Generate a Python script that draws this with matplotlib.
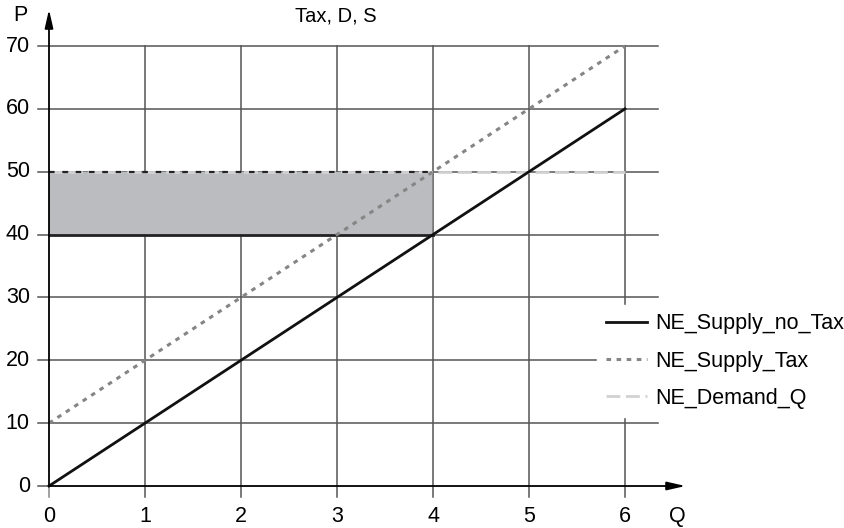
import matplotlib.pyplot as plt

plt.rcParams['font.family'] = ['Liberation Sans', 'DejaVu Sans']

# data
q = [0, 1, 2, 3, 4, 5, 6]
supply_no_tax = [0, 10, 20, 30, 40, 50, 60]
supply_tax = [10, 20, 30, 40, 50, 60, 70]
demand = [50, 50, 50, 50, 50, 50, 50]
x_ticks = [0, 1, 2, 3, 4, 5, 6]
y_ticks = [0, 10, 20, 30, 40, 50, 60, 70]
tax_q = 4
price_low = 40
price_high = 50

W, H = 844, 528
fig = plt.figure(figsize=(W / 100, H / 100), dpi=100)
ax = fig.add_axes([0, 0, 1, 1])
# pixel mapping: x=0 at 49px, 96px per unit; y=0 at 486px, 6.2857px per unit
xs, ys = 96.0, 440 / 70.0
ax.set_xlim(-49 / xs, (W - 49) / xs)
ax.set_ylim(-(H - 486) / ys, 486 / ys)
ax.axis('off')

grid_c = '#555555'
# grid
for y in y_ticks[1:]:
    ax.plot([-0.115, 6.34], [y, y], color=grid_c, lw=1.1, zorder=1)
for x in x_ticks[1:]:
    ax.plot([x, x], [-1.75, 70], color=grid_c, lw=1.1, zorder=1)
ax.plot([0, 0], [-1.75, 0], color='#888888', lw=1.1, zorder=1)
ax.plot([-0.115, 0], [0, 0], color=grid_c, lw=1.1, zorder=1)

# shaded tax area
ax.fill_between([0, tax_q], price_low, price_high, color='#bbbcbf', lw=0, zorder=2)
ax.plot([0, tax_q], [price_low, price_low], color='#222222', lw=2, zorder=4)
ax.plot([tax_q, tax_q], [price_low, price_high], color='#777777', lw=1.1, zorder=3)

# series
l1, = ax.plot(q, supply_no_tax, color='#111111', lw=2, zorder=5, label='NE_Supply_no_Tax')
l2, = ax.plot(q, supply_tax, color='#858585', lw=2.2, ls=(0, (1.5, 1.8)), zorder=5, label='NE_Supply_Tax')
l3, = ax.plot(q, demand, color='#d2d2d2', lw=2, ls=(0, (5, 2)), zorder=4, label='NE_Demand_Q')
ax.plot([0, tax_q], [price_high, price_high], color='#222222', lw=1.6, ls=(0, (2.5, 3.5)), zorder=4)

# axes with arrows
ax.annotate('', xy=(6.63, 0), xytext=(0, 0),
            arrowprops=dict(arrowstyle='-|>,head_length=1.1,head_width=0.25', color='black', lw=1.3,
                            shrinkA=0, shrinkB=0), zorder=6)
ax.annotate('', xy=(0, 75.8), xytext=(0, 0),
            arrowprops=dict(arrowstyle='-|>,head_length=1.1,head_width=0.25', color='black', lw=1.3,
                            shrinkA=0, shrinkB=0), zorder=6)

# tick labels
fs = 15.5
for x in x_ticks:
    ax.text(x, -4.9, str(x), ha='center', va='center', fontsize=fs)
for y in y_ticks:
    ax.text(-0.2, y, str(y), ha='right', va='center', fontsize=fs)
ax.text(6.54, -4.9, 'Q', ha='center', va='center', fontsize=fs)
ax.text(-0.3, 74.8, 'P', ha='center', va='center', fontsize=fs)
ax.text(2.99, 74.7, 'Tax, D, S', ha='center', va='center', fontsize=14.5)

leg = ax.legend(handles=[l1, l2, l3], loc='center left', bbox_to_anchor=(597 / W, 1 - 361 / H),
                bbox_transform=fig.transFigure, frameon=True, framealpha=1, edgecolor='white',
                fontsize=fs, handlelength=1.9, handletextpad=0.4, labelspacing=0.75,
                borderaxespad=0, fancybox=False)
leg.set_zorder(10)

fig.savefig('out.png', dpi=100)
